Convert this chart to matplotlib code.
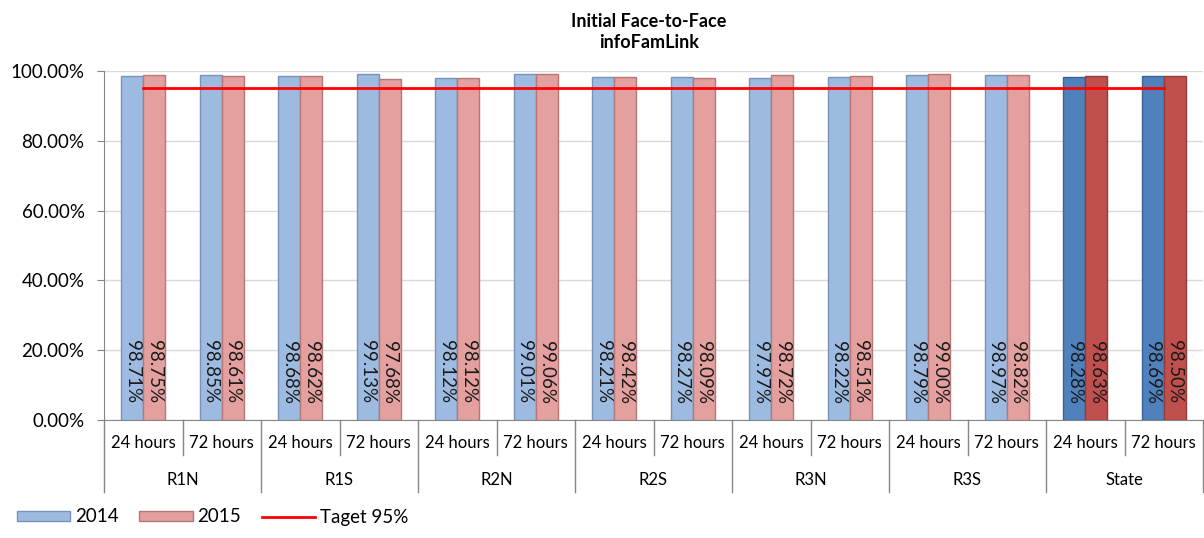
import numpy as np
import matplotlib
matplotlib.use("Agg")
import matplotlib.pyplot as plt
from matplotlib.patches import Patch
from matplotlib.lines import Line2D

plt.rcParams['font.family'] = ['Lato', 'DejaVu Sans']

# data
regions = ["R1N", "R1S", "R2N", "R2S", "R3N", "R3S", "State"]
periods = ["24 hours", "72 hours"]
vals_2014 = [98.71, 98.85, 98.68, 99.13, 98.12, 99.01, 98.21, 98.27,
             97.97, 98.22, 98.79, 98.97, 98.28, 98.69]
vals_2015 = [98.75, 98.61, 98.62, 97.68, 98.12, 99.06, 98.42, 98.09,
             98.72, 98.51, 99.00, 98.82, 98.63, 98.50]
target = 95

n = len(vals_2014)
x = np.arange(n)
w = 0.28

fig = plt.figure(figsize=(12.04, 5.38), dpi=100)
ax = fig.add_axes([104/1204, 118/538, 1099/1204, 349/538])

# colours: lighter for regions, saturated for State
c14 = ['#9DBBE1'] * (n - 2) + ['#4F81BD'] * 2
c15 = ['#E3A09E'] * (n - 2) + ['#C0504D'] * 2
e14 = ['#7892B8'] * (n - 2) + ['#3B6496'] * 2
e15 = ['#B57876'] * (n - 2) + ['#923B39'] * 2

ax.bar(x - w/2, vals_2014, w, color=c14, edgecolor=e14, linewidth=1, zorder=3)
ax.bar(x + w/2, vals_2015, w, color=c15, edgecolor=e15, linewidth=1, zorder=3)
ax.plot(x, [target] * n, color='#FF0000', linewidth=2, zorder=4)

for i in range(n):
    ax.text(x[i] - w/2, 4.7, "%.2f%%" % vals_2014[i], rotation=270,
            ha='center', va='bottom', fontsize=13.5, color='#1a1a1a', zorder=5)
    ax.text(x[i] + w/2, 4.7, "%.2f%%" % vals_2015[i], rotation=270,
            ha='center', va='bottom', fontsize=13.5, color='#1a1a1a', zorder=5)

ax.set_xlim(-0.5, n - 0.5)
ax.set_ylim(0, 100)
ax.set_yticks(np.arange(0, 101, 20))
ax.set_yticklabels(["%.2f%%" % v for v in np.arange(0, 101, 20)], fontsize=13.5)
ax.yaxis.grid(True, color='#D9D9D9', linewidth=1, zorder=0)
ax.tick_params(axis='y', direction='out', length=5, color='#868686', pad=9)
ax.set_xticks([])
for s in ['top', 'right']:
    ax.spines[s].set_visible(False)
ax.spines['left'].set_color('#868686')
ax.spines['bottom'].set_color('#868686')

# two-level category axis
tr = ax.get_xaxis_transform()
for i in range(n):
    ax.text(x[i], -0.066, periods[i % 2], transform=tr, ha='center', va='center',
            fontsize=12)
for g, name in enumerate(regions):
    ax.text(2*g + 0.5, -0.172, name, transform=tr, ha='center', va='center',
            fontsize=12)
for i in range(n + 1):
    xb = i - 0.5
    y1 = -0.205 if i % 2 == 0 else -0.1
    ax.add_line(Line2D([xb, xb], [0, y1], transform=tr, color='#868686',
                       linewidth=1, clip_on=False))

fig.text(649/1204, 1 - 32/538, "Initial Face-to-Face\ninfoFamLink", ha='center',
         va='center', fontsize=13, fontweight='bold', linespacing=1.25)

handles = [Patch(facecolor='#9DBBE1', edgecolor='#7892B8'),
           Patch(facecolor='#E3A09E', edgecolor='#B57876'),
           Line2D([], [], color='#FF0000', linewidth=2)]
fig.legend(handles, ["2014", "2015", "Taget 95%"], loc='center left',
           bbox_to_anchor=(0.0, 1 - 517/538), ncol=3, frameon=False,
           fontsize=13.5, handlelength=2.85, handleheight=0.45, columnspacing=1.1,
           handletextpad=0.25)

fig.savefig("out.png", dpi=100)
